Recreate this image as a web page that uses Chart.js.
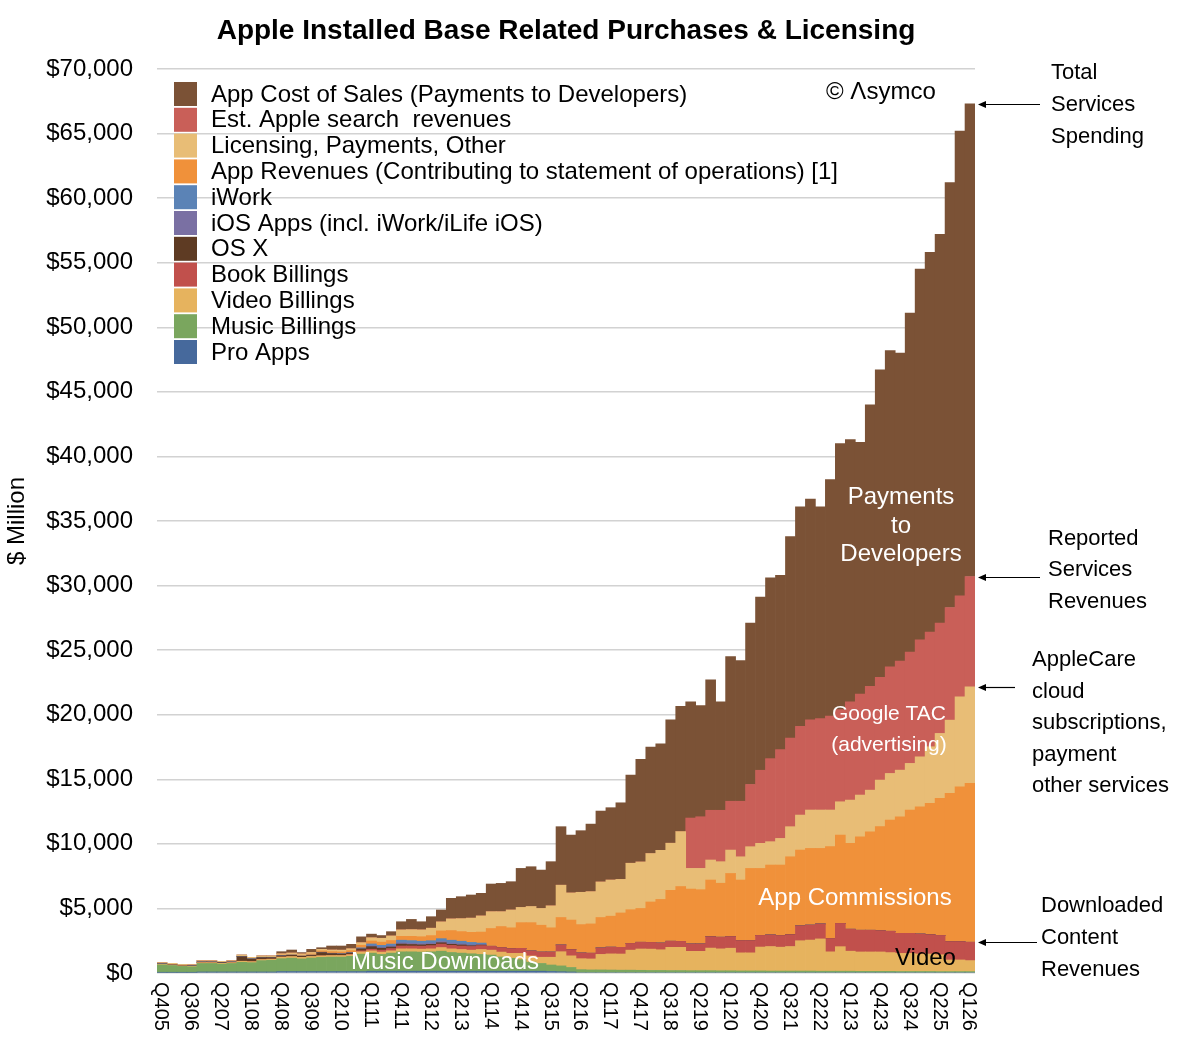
<!DOCTYPE html>
<html>
<head>
<meta charset="utf-8">
<title>Apple Installed Base Related Purchases &amp; Licensing</title>
<script src="https://cdn.jsdelivr.net/npm/chart.js@4.4.1/dist/chart.umd.min.js"></script>
<style>
  body { margin: 0; background: #fff; }
</style>
</head>
<body>
<canvas id="chart" width="1200" height="1060"></canvas>
<script>
// quarters, fiscal (Q405 = Q4 2005 ... Q126 = Q1 2026)
var quarters = [
  "Q405",
  "Q106","Q206","Q306","Q406","Q107","Q207","Q307","Q407","Q108","Q208","Q308","Q408",
  "Q109","Q209","Q309","Q409","Q110","Q210","Q310","Q410","Q111","Q211","Q311","Q411",
  "Q112","Q212","Q312","Q412","Q113","Q213","Q313","Q413","Q114","Q214","Q314","Q414",
  "Q115","Q215","Q315","Q415","Q116","Q216","Q316","Q416","Q117","Q217","Q317","Q417",
  "Q118","Q218","Q318","Q418","Q119","Q219","Q319","Q419","Q120","Q220","Q320","Q420",
  "Q121","Q221","Q321","Q421","Q122","Q222","Q322","Q422","Q123","Q223","Q323","Q423",
  "Q124","Q224","Q324","Q424","Q125","Q225","Q325","Q425","Q126"
];
var tickEvery = 3;
var yTicks = [0, 5000, 10000, 15000, 20000, 25000, 30000, 35000, 40000, 45000, 50000, 55000, 60000, 65000, 70000];

// $ million per quarter, bottom of the stack first
var proApps = [50,50,50,50,80,80,80,80,80,80,80,80,
  110,110,110,110,110,110,110,110,110,
  140,140,140,140,140,140,140,140,140,140,140,140,140,140,140,140,140,140,
  120,100,80,
  0,0,0,0,0,0,0,0,0,0,0,0,0,0,0,0,0,0,0,0,0,0,0,0,0,0,0,0,0,0,0,0,0,0,0,0,0,0,0,0];

var musicBillings = [580,530,460,430,660,660,610,660,750,720,880,910,
  1000,1040,980,1050,1100,1120,1120,1180,1350,1400,1300,1400,1500,1500,1480,1500,1550,1450,1400,1350,1300,
  1250,1100,1000,900,700,600,500,450,350,260,
  240,240,230,220,220,210,200,200,190,190,180,180,180,170,170,160,160,160,150,150,
  150,150,150,140,140,140,140,130,130,130,130,120,120,120,120,110,110,110,110];

var videoBillings = [40,40,40,40,60,60,60,60,80,80,80,80,
  120,120,120,120,120,120,120,120,180,180,180,180,230,230,230,230,280,280,280,280,
  380,380,380,380,480,480,480,600,1100,900,850,850,1200,1250,1250,1550,1650,1650,1600,
  1800,1800,1500,1500,1750,1700,1750,1400,1400,1850,1900,1850,1900,2350,2400,2500,
  1500,1900,1550,1500,1500,1500,1450,1400,1400,1350,1350,1300,900,900,850];

var bookBillings = [0,0,0,0,0,0,0,0,0,0,0,0,0,0,0,0,0,0,0,
  40,80,120,150,170,220,220,230,250,270,270,270,280,300,300,350,370,390,390,400,400,
  520,480,440,440,500,520,520,520,520,520,520,470,460,570,570,880,900,900,950,950,
  900,900,900,920,1150,1160,1160,1030,1800,1700,1680,1680,1650,1650,1550,1550,1550,
  1500,1500,1420,1420,1420];

var osX = [30,30,30,30,50,50,50,50,350,200,150,120,
  100,100,80,80,250,150,120,100,150,200,150,120,150,120,100,100,100,80,80,60,40,
  0,0,0,0,0,0,0,0,0,0,0,0,0,0,0,0,0,0,0,0,0,0,0,0,0,0,0,0,0,0,0,0,0,0,0,0,0,0,0,0,0,0,0,0,0,0,0,0,0,0];

var iosApps = [0,0,0,0,0,0,0,0,0,0,0,0,0,0,0,0,0,0,0,0,0,
  60,70,80,100,100,100,100,100,100,90,80,60,
  0,0,0,0,0,0,0,0,0,0,0,0,0,0,0,0,0,0,0,0,0,0,0,0,0,0,0,0,0,0,0,0,0,0,0,0,0,0,0,0,0,0,0,0,0,0,0,0,0,0];

var iWork = [20,20,20,20,20,20,20,20,30,30,30,30,30,30,30,30,30,30,30,30,
  80,150,150,150,200,200,180,180,220,220,200,180,100,
  0,0,0,0,0,0,0,0,0,0,0,0,0,0,0,0,0,0,0,0,0,0,0,0,0,0,0,0,0,0,0,0,0,0,0,0,0,0,0,0,0,0,0,0,0,0,0,0,0,0];

var appRevenues = [0,0,0,0,0,0,0,0,0,0,0,0,
  30,50,60,80,100,120,130,150,200,230,250,280,300,330,350,400,600,750,750,780,850,
  1380,1630,1610,1990,2190,2080,1880,2130,2290,2200,2270,2360,2400,2660,2610,2620,3130,3380,
  3940,4250,4250,4200,4390,4180,4890,4690,5590,5190,5410,5460,6030,5870,5940,5850,
  7110,6840,6650,7240,7630,8050,8610,9030,9550,9850,10160,10610,11480,11990,12300];

var licensing = [80,80,70,70,80,80,80,80,100,100,100,100,
  100,100,100,120,120,130,140,150,200,250,300,350,500,520,530,570,700,900,1000,1100,1250,
  1300,1150,1380,1180,1250,1300,1700,2500,2100,2500,2500,2750,2800,2600,3600,3600,3750,3800,
  3650,4250,1600,1650,1550,1670,1810,1800,1680,1940,1810,2060,2330,2710,2970,2970,
  2840,2580,3350,3230,3220,3610,3610,3610,3610,3870,4390,5030,5670,6970,7480];

var searchRevenues = [0,0,0,0,0,0,0,0,0,0,0,0,0,0,0,0,0,0,0,0,0,0,0,0,0,0,0,0,0,0,0,0,0,0,0,0,0,0,0,0,
  0,0,0,0,0,0,0,0,0,0,0,0,0,
  3900,4000,3850,3980,3780,4300,4820,5660,6430,6880,6870,6870,6980,7080,7280,7140,
  7610,7820,8040,7960,8250,8440,8620,9060,8880,8550,8720,7810,8540];

var appCostOfSales = [0,0,0,0,0,0,0,0,0,0,0,0,
  160,230,100,240,130,310,320,340,450,280,210,330,630,790,630,890,920,1590,1700,1790,1750,
  2140,2190,2190,3020,3080,2970,3420,4530,4480,4770,5230,5490,5600,5930,6830,7950,8250,8250,
  9550,9700,9000,8600,10100,8400,11200,10900,12500,13400,14000,13500,15600,17000,17100,16400,
  18300,20600,20300,19500,21800,23800,24500,23850,26250,28700,29400,30100,32900,36000,36600];

var FONT = "'Liberation Sans', Arial, Helvetica, sans-serif";
Chart.defaults.font.family = FONT;
Chart.defaults.color = '#000';

var series = [
  { label: 'Pro Apps', data: proApps, color: '#46699c' },
  { label: 'Music Billings', data: musicBillings, color: '#7aa65e' },
  { label: 'Video Billings', data: videoBillings, color: '#e6b35e' },
  { label: 'Book Billings', data: bookBillings, color: '#c1504c' },
  { label: 'OS X', data: osX, color: '#5e3b23' },
  { label: 'iOS Apps (incl. iWork/iLife iOS)', data: iosApps, color: '#7a70a3' },
  { label: 'iWork', data: iWork, color: '#5b83b6' },
  { label: 'App Revenues (Contributing to statement of operations) [1]', data: appRevenues, color: '#f0913a' },
  { label: 'Licensing, Payments, Other', data: licensing, color: '#e8bd76' },
  { label: 'Est. Apple search  revenues', data: searchRevenues, color: '#c95f58' },
  { label: 'App Cost of Sales (Payments to Developers)', data: appCostOfSales, color: '#7b5236' }
];

function stackTop(upTo, i) {
  var s = 0;
  for (var k = 0; k <= upTo; k++) s += series[k].data[i];
  return s;
}

function arrow(ctx, x1, x2, y) {
  ctx.beginPath();
  ctx.moveTo(x1, y);
  ctx.lineTo(x2 + 6, y);
  ctx.stroke();
  ctx.beginPath();
  ctx.moveTo(x2, y);
  ctx.lineTo(x2 + 8, y - 3.5);
  ctx.lineTo(x2 + 8, y + 3.5);
  ctx.closePath();
  ctx.fill();
}

var overlay = {
  id: 'overlay',
  afterDraw: function(chart) {
    var ctx = chart.ctx;
    var xs = chart.scales.x, ys = chart.scales.y;
    var area = chart.chartArea;
    ctx.save();

    // title
    ctx.fillStyle = '#000';
    ctx.font = 'bold 28px ' + FONT;
    ctx.textAlign = 'center';
    ctx.textBaseline = 'middle';
    ctx.fillText('Apple Installed Base Related Purchases & Licensing', 566, 31);

    // x labels, rotated clockwise
    ctx.font = '20px ' + FONT;
    ctx.textAlign = 'left';
    for (var i = 0; i < quarters.length; i += tickEvery) {
      ctx.save();
      ctx.translate(xs.getPixelForValue(i), area.bottom + 9);
      ctx.rotate(Math.PI / 2);
      ctx.fillText(quarters[i], 0, 1);
      ctx.restore();
    }

    // legend, top of stack first
    ctx.font = '24px ' + FONT;
    ctx.textAlign = 'left';
    for (var j = 0; j < series.length; j++) {
      var s = series[series.length - 1 - j];
      var cy = 94 + j * 25.8;
      ctx.fillStyle = s.color;
      ctx.fillRect(174, cy - 12, 23, 24);
      ctx.fillStyle = '#000';
      ctx.fillText(s.label, 211, cy + 1);
    }
    ctx.fillText('\u00a9 \u039bsymco', 826, 92);

    // labels on the areas
    ctx.fillStyle = '#fff';
    ctx.textAlign = 'center';
    ctx.font = '24px ' + FONT;
    ctx.fillText('Payments', 901, 497);
    ctx.fillText('to', 901, 526);
    ctx.fillText('Developers', 901, 554);
    ctx.fillText('App Commissions', 855, 898);
    ctx.fillText('Music Downloads', 445, 962);
    ctx.font = '21px ' + FONT;
    ctx.fillText('Google TAC', 889, 714);
    ctx.fillText('(advertising)', 889, 745);
    ctx.fillStyle = '#000';
    ctx.font = '24px ' + FONT;
    ctx.textAlign = 'left';
    ctx.fillText('Video', 895, 958);

    // right-hand notes
    ctx.font = '22px ' + FONT;
    var notes = [
      { x: 1051, ys: [73, 105, 137], lines: ['Total', 'Services', 'Spending'] },
      { x: 1048, ys: [539, 570, 602], lines: ['Reported', 'Services', 'Revenues'] },
      { x: 1032, ys: [660, 692, 723, 755, 786], lines: ['AppleCare', 'cloud', 'subscriptions,', 'payment', 'other services'] },
      { x: 1041, ys: [906, 938, 970], lines: ['Downloaded', 'Content', 'Revenues'] }
    ];
    notes.forEach(function(n) {
      n.lines.forEach(function(t, k) { ctx.fillText(t, n.x, n.ys[k]); });
    });

    var last = quarters.length - 1;
    var ax = area.right + 3;
    ctx.strokeStyle = '#000';
    ctx.lineWidth = 1.2;
    arrow(ctx, 1040, ax, Math.round(ys.getPixelForValue(stackTop(10, last))) + 0.5);
    arrow(ctx, 1040, ax, Math.round(ys.getPixelForValue(stackTop(9, last))) + 0.5);
    arrow(ctx, 1015, ax, Math.round(ys.getPixelForValue(stackTop(8, last))) + 0.5);
    arrow(ctx, 1037, ax, Math.round(ys.getPixelForValue(stackTop(3, last))) + 0.5);

    ctx.restore();
  }
};

new Chart(document.getElementById('chart').getContext('2d'), {
  type: 'bar',
  data: {
    labels: quarters,
    datasets: series.map(function(s) {
      return {
        label: s.label,
        data: s.data,
        backgroundColor: s.color,
        borderWidth: 0,
        barPercentage: 1,
        categoryPercentage: 1
      };
    })
  },
  options: {
    responsive: false,
    animation: false,
    devicePixelRatio: 1,
    layout: { padding: { top: 69, right: 225, bottom: 87, left: 0 } },
    plugins: {
      legend: { display: false },
      title: { display: false },
      tooltip: { enabled: false }
    },
    scales: {
      x: {
        stacked: true,
        grid: { display: false },
        border: { display: false },
        ticks: { display: false },
        afterFit: function(scale) { scale.height = 0; }
      },
      y: {
        stacked: true,
        min: yTicks[0],
        max: yTicks[yTicks.length - 1],
        afterBuildTicks: function(scale) {
          scale.ticks = yTicks.map(function(v) { return { value: v }; });
        },
        ticks: {
          padding: 24,
          color: '#000',
          font: { size: 24 },
          callback: function(v) { return '$' + v.toLocaleString('en-US'); }
        },
        grid: { color: '#d2d2d2', lineWidth: 1.5, drawTicks: false },
        border: { display: false },
        title: {
          display: true,
          text: '$ Million',
          color: '#000',
          font: { size: 24 },
          padding: { top: 3, bottom: 0 }
        },
        afterFit: function(scale) { scale.width = 157; }
      }
    }
  },
  plugins: [overlay]
});
</script>
</body>
</html>
